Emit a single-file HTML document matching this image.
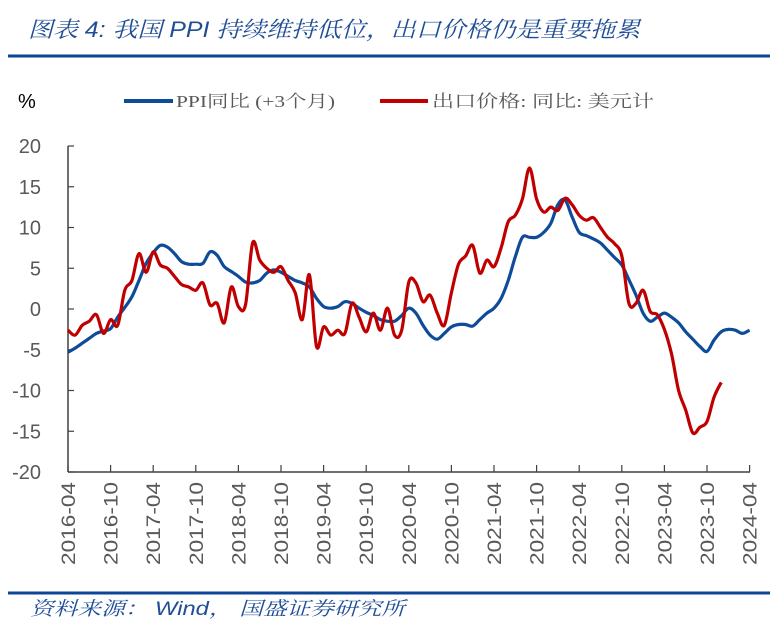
<!DOCTYPE html>
<html><head><meta charset="utf-8"><style>
body{margin:0;background:#fff;width:778px;height:634px;overflow:hidden;font-family:"Liberation Sans","Noto Sans CJK SC",sans-serif}
svg{display:block}
</style></head><body>
<svg width="778" height="634" viewBox="0 0 778 634">
<text x="28" y="37" font-size="22" font-style="italic" fill="#1F4E96" textLength="612" lengthAdjust="spacingAndGlyphs" font-family="'Liberation Sans','Noto Serif CJK SC',serif">图表 4:  我国 PPI 持续维持低位，出口价格仍是重要拖累</text>
<line x1="8" y1="56" x2="770" y2="56" stroke="#0E4596" stroke-width="3"/>
<text x="18" y="108" font-size="20" fill="#000">%</text>
<g>
<line x1="124" y1="101" x2="173" y2="101" stroke="#0E4C9A" stroke-width="4"/>
<text x="176" y="107" font-size="17" fill="#595959" textLength="159" lengthAdjust="spacingAndGlyphs" font-family="'Liberation Serif','Noto Serif CJK SC',serif">PPI同比 (+3个月)</text>
<line x1="380" y1="101" x2="428" y2="101" stroke="#C00000" stroke-width="4"/>
<text x="432" y="107" font-size="17" fill="#595959" textLength="222" lengthAdjust="spacingAndGlyphs" font-family="'Liberation Serif','Noto Serif CJK SC',serif">出口价格: 同比: 美元计</text>
</g>
<g id="axes"></g>
<g id="series"></g>
<line x1="8" y1="593" x2="770" y2="593" stroke="#0E4596" stroke-width="3"/>
<text x="30" y="615" font-size="19" font-style="italic" fill="#1F4E96" textLength="375" lengthAdjust="spacingAndGlyphs" font-family="'Liberation Sans','Noto Serif CJK SC',serif">资料来源：  Wind，  国盛证券研究所</text>
</svg>
<script>
const tickLabels = ["2016-04","2016-10","2017-04","2017-10","2018-04","2018-10","2019-04","2019-10","2020-04","2020-10","2021-04","2021-10","2022-04","2022-10","2023-04","2023-10","2024-04"];
const yTicks = [20,15,10,5,0,-5,-10,-15,-20];
const ppi = [-5.3,-4.8,-4.2,-3.6,-3.0,-2.7,-2.4,-1.0,0.2,1.5,
3.5,5.6,6.9,7.8,7.6,6.8,5.8,5.5,5.5,5.6,
7.0,6.6,5.2,4.6,4.0,3.3,3.2,3.5,4.4,4.8,
4.5,4.0,3.5,3.2,2.7,1.3,0.3,0.1,0.3,0.9,
0.7,0.1,-0.4,-0.8,-1.3,-1.5,-1.5,-0.8,0.1,-0.5,
-2.0,-3.2,-3.7,-3.0,-2.2,-1.9,-1.9,-2.1,-1.3,-0.5,
0.1,1.3,3.5,6.4,8.8,8.8,8.8,9.4,10.5,12.8,
13.4,11.3,9.4,9.0,8.6,8.1,7.2,6.3,5.4,3.6,
1.7,-0.5,-1.5,-1.0,-0.5,-1.0,-1.7,-2.8,-3.7,-4.6,
-5.2,-3.8,-2.8,-2.5,-2.6,-3.0,-2.6];
const exportPrice = [-2.6,-3.2,-2.0,-1.5,-0.7,-3.0,-1.3,-2.0,2.3,3.5,
6.8,4.5,7.0,5.4,5.0,4.0,3.0,2.7,2.3,3.2,
0.5,0.7,-1.7,2.7,0.3,0.5,8.1,6.0,5.0,4.5,
5.2,3.5,2.0,-1.3,4.2,-4.6,-2.2,-3.2,-2.6,-3.0,
0.7,-1.0,-2.8,-0.5,-2.6,0.1,-3.2,-2.6,3.3,3.2,
0.9,1.7,-0.5,-2.0,2.0,5.5,6.5,7.8,4.4,6.0,
5.2,7.5,10.7,11.5,13.5,17.3,13.5,11.9,12.5,12.1,
13.6,12.8,11.5,10.9,11.2,10.0,8.8,8.0,6.5,0.7,
0.7,2.3,-0.3,-0.7,-2.5,-5.5,-10.0,-12.4,-15.2,-14.5,
-13.8,-10.8,-9.0];
const NS="http://www.w3.org/2000/svg";
const X0=68,DX=7.1,Y0=309,YS=8.15;
const xs=i=>X0+i*DX, ys=v=>Y0-v*YS;
function mk(t,a,p){const e=document.createElementNS(NS,t);for(const k in a)e.setAttribute(k,a[k]);p.appendChild(e);return e;}
const ax=document.getElementById('axes');
let e=mk('line',{x1:X0,y1:ys(20),x2:X0,y2:ys(-20),stroke:'#404040','stroke-width':1.5},ax);


e=mk('line',{x1:X0,y1:ys(-20),x2:750,y2:ys(-20),stroke:'#404040','stroke-width':1.5},ax);


yTicks.forEach(v=>{
 const t=mk('line',{x1:X0,y1:ys(v),x2:X0+6,y2:ys(v),stroke:'#404040','stroke-width':1.2},ax);
 
 
 const l=mk('text',{x:41,y:ys(v)+7,'font-size':20,fill:'#595959','text-anchor':'end'},ax);
 l.textContent=v;
 
 
});
tickLabels.forEach((s,k)=>{
 const x=xs(k*6);
 const t=mk('line',{x1:x,y1:ys(-20),x2:x,y2:ys(-20)-7,stroke:'#404040','stroke-width':1.2},ax);
 
 
 const l=mk('text',{x:0,y:0,'font-size':19,fill:'#595959','text-anchor':'end',textLength:83,lengthAdjust:'spacingAndGlyphs',transform:`translate(${x+7},482) rotate(-90)`},ax);
 l.textContent=s;
 
 
});
const sg=document.getElementById('series');
function path(arr){
 const p=arr.map((v,i)=>[xs(i),ys(v)]);
 let d='M'+p[0][0].toFixed(1)+','+p[0][1].toFixed(1);
 for(let i=0;i<p.length-1;i++){
  const a=p[i-1]||p[i],b=p[i],c=p[i+1],n=p[i+2]||c;
  const c1=[b[0]+(c[0]-a[0])/6,b[1]+(c[1]-a[1])/6],c2=[c[0]-(n[0]-b[0])/6,c[1]-(n[1]-b[1])/6];
  d+='C'+c1.map(z=>z.toFixed(1))+' '+c2.map(z=>z.toFixed(1))+' '+c.map(z=>z.toFixed(1));
 }
 return d;
}
e=mk('path',{d:path(ppi),fill:'none',stroke:'#0E4C9A','stroke-width':3.2,'stroke-linejoin':'round'},sg);


e=mk('path',{d:path(exportPrice),fill:'none',stroke:'#C00000','stroke-width':3.2,'stroke-linejoin':'round'},sg);


</script>
</body></html>
